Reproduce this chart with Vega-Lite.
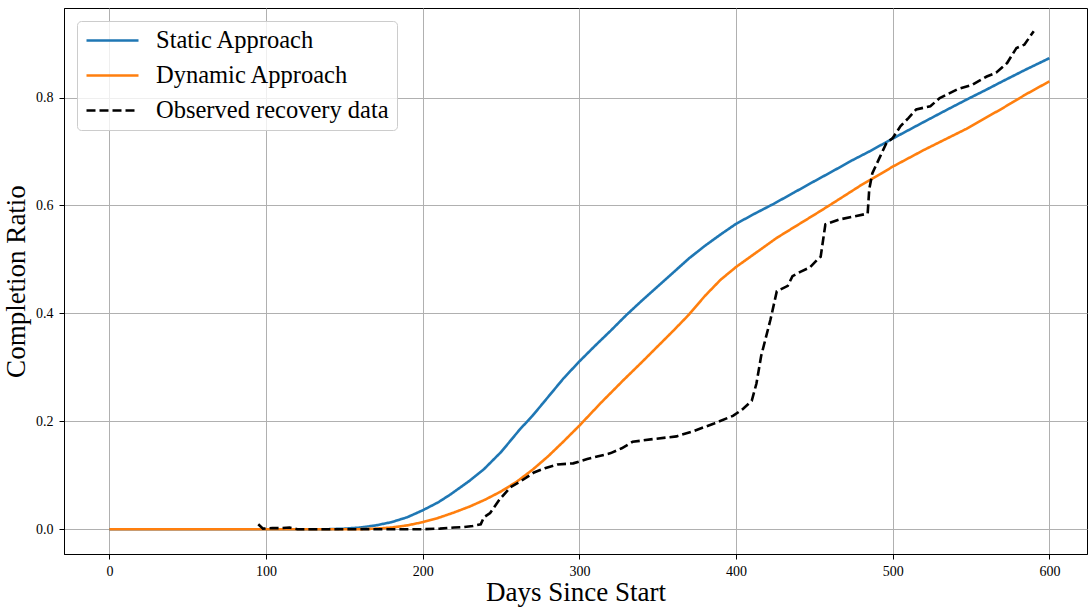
{
  "$schema": "https://vega.github.io/schema/vega-lite/v6.json",
  "width": 1023,
  "height": 546,
  "autosize": {"type": "none"},
  "padding": {"left": 64, "top": 8, "right": 3, "bottom": 55},
  "background": "white",
  "config": {
    "view": {"stroke": "black", "strokeWidth": 1},
    "font": "Liberation Serif",
    "axis": {
      "labelFont": "Liberation Serif",
      "titleFont": "Liberation Serif",
      "labelFontSize": 14,
      "titleFontSize": 27,
      "titleFontWeight": "normal",
      "labelColor": "black",
      "titleColor": "black",
      "domainColor": "black",
      "tickColor": "black",
      "tickSize": 5,
      "gridColor": "#b0b0b0",
      "gridWidth": 1,
      "gridOpacity": 1
    }
  },
  "datasets": {
    "curves": [
      {"series": "Static Approach", "day": 0, "value": 0},
      {"series": "Static Approach", "day": 50, "value": 0},
      {"series": "Static Approach", "day": 100, "value": 0},
      {"series": "Static Approach", "day": 140, "value": 0},
      {"series": "Static Approach", "day": 150, "value": 0.001},
      {"series": "Static Approach", "day": 160, "value": 0.003},
      {"series": "Static Approach", "day": 170, "value": 0.007},
      {"series": "Static Approach", "day": 180, "value": 0.013},
      {"series": "Static Approach", "day": 190, "value": 0.022},
      {"series": "Static Approach", "day": 200, "value": 0.035},
      {"series": "Static Approach", "day": 210, "value": 0.05},
      {"series": "Static Approach", "day": 218, "value": 0.065},
      {"series": "Static Approach", "day": 230, "value": 0.09},
      {"series": "Static Approach", "day": 239, "value": 0.111},
      {"series": "Static Approach", "day": 250, "value": 0.143},
      {"series": "Static Approach", "day": 262, "value": 0.185},
      {"series": "Static Approach", "day": 270, "value": 0.21},
      {"series": "Static Approach", "day": 280, "value": 0.245},
      {"series": "Static Approach", "day": 290, "value": 0.28},
      {"series": "Static Approach", "day": 300, "value": 0.311},
      {"series": "Static Approach", "day": 310, "value": 0.34},
      {"series": "Static Approach", "day": 320, "value": 0.368},
      {"series": "Static Approach", "day": 330, "value": 0.397},
      {"series": "Static Approach", "day": 340, "value": 0.424},
      {"series": "Static Approach", "day": 350, "value": 0.45},
      {"series": "Static Approach", "day": 360, "value": 0.476},
      {"series": "Static Approach", "day": 370, "value": 0.502},
      {"series": "Static Approach", "day": 380, "value": 0.525},
      {"series": "Static Approach", "day": 390, "value": 0.546},
      {"series": "Static Approach", "day": 400, "value": 0.566},
      {"series": "Static Approach", "day": 412, "value": 0.585},
      {"series": "Static Approach", "day": 424, "value": 0.603},
      {"series": "Static Approach", "day": 437, "value": 0.624},
      {"series": "Static Approach", "day": 450, "value": 0.645},
      {"series": "Static Approach", "day": 462, "value": 0.664},
      {"series": "Static Approach", "day": 473, "value": 0.682},
      {"series": "Static Approach", "day": 485, "value": 0.7},
      {"series": "Static Approach", "day": 500, "value": 0.724},
      {"series": "Static Approach", "day": 520, "value": 0.755},
      {"series": "Static Approach", "day": 535, "value": 0.778},
      {"series": "Static Approach", "day": 547, "value": 0.796},
      {"series": "Static Approach", "day": 560, "value": 0.815},
      {"series": "Static Approach", "day": 570, "value": 0.83},
      {"series": "Static Approach", "day": 585, "value": 0.852},
      {"series": "Static Approach", "day": 600, "value": 0.873},
      {"series": "Dynamic Approach", "day": 0, "value": 0},
      {"series": "Dynamic Approach", "day": 100, "value": 0},
      {"series": "Dynamic Approach", "day": 160, "value": 0},
      {"series": "Dynamic Approach", "day": 170, "value": 0.001},
      {"series": "Dynamic Approach", "day": 180, "value": 0.003},
      {"series": "Dynamic Approach", "day": 190, "value": 0.007},
      {"series": "Dynamic Approach", "day": 200, "value": 0.013},
      {"series": "Dynamic Approach", "day": 210, "value": 0.021},
      {"series": "Dynamic Approach", "day": 220, "value": 0.031},
      {"series": "Dynamic Approach", "day": 230, "value": 0.042},
      {"series": "Dynamic Approach", "day": 240, "value": 0.055},
      {"series": "Dynamic Approach", "day": 250, "value": 0.07},
      {"series": "Dynamic Approach", "day": 260, "value": 0.088},
      {"series": "Dynamic Approach", "day": 270, "value": 0.11},
      {"series": "Dynamic Approach", "day": 280, "value": 0.135},
      {"series": "Dynamic Approach", "day": 290, "value": 0.163},
      {"series": "Dynamic Approach", "day": 300, "value": 0.192},
      {"series": "Dynamic Approach", "day": 314, "value": 0.235},
      {"series": "Dynamic Approach", "day": 328, "value": 0.276},
      {"series": "Dynamic Approach", "day": 340, "value": 0.31},
      {"series": "Dynamic Approach", "day": 350, "value": 0.339},
      {"series": "Dynamic Approach", "day": 360, "value": 0.368},
      {"series": "Dynamic Approach", "day": 370, "value": 0.398},
      {"series": "Dynamic Approach", "day": 380, "value": 0.432},
      {"series": "Dynamic Approach", "day": 390, "value": 0.462},
      {"series": "Dynamic Approach", "day": 400, "value": 0.486},
      {"series": "Dynamic Approach", "day": 413, "value": 0.513},
      {"series": "Dynamic Approach", "day": 426, "value": 0.54},
      {"series": "Dynamic Approach", "day": 440, "value": 0.565},
      {"series": "Dynamic Approach", "day": 454, "value": 0.59},
      {"series": "Dynamic Approach", "day": 466, "value": 0.612},
      {"series": "Dynamic Approach", "day": 480, "value": 0.638},
      {"series": "Dynamic Approach", "day": 492, "value": 0.658},
      {"series": "Dynamic Approach", "day": 500, "value": 0.672},
      {"series": "Dynamic Approach", "day": 520, "value": 0.703},
      {"series": "Dynamic Approach", "day": 547, "value": 0.742},
      {"series": "Dynamic Approach", "day": 570, "value": 0.78},
      {"series": "Dynamic Approach", "day": 585, "value": 0.806},
      {"series": "Dynamic Approach", "day": 600, "value": 0.83},
      {"series": "Observed recovery data", "day": 95, "value": 0.009},
      {"series": "Observed recovery data", "day": 98, "value": 0.001},
      {"series": "Observed recovery data", "day": 104, "value": 0.002},
      {"series": "Observed recovery data", "day": 110, "value": 0.002},
      {"series": "Observed recovery data", "day": 115, "value": 0.003},
      {"series": "Observed recovery data", "day": 120, "value": 0},
      {"series": "Observed recovery data", "day": 150, "value": 0},
      {"series": "Observed recovery data", "day": 180, "value": 0},
      {"series": "Observed recovery data", "day": 200, "value": 0},
      {"series": "Observed recovery data", "day": 211, "value": 0.001},
      {"series": "Observed recovery data", "day": 220, "value": 0.003},
      {"series": "Observed recovery data", "day": 226, "value": 0.004},
      {"series": "Observed recovery data", "day": 232, "value": 0.006},
      {"series": "Observed recovery data", "day": 237, "value": 0.009},
      {"series": "Observed recovery data", "day": 239, "value": 0.022},
      {"series": "Observed recovery data", "day": 243, "value": 0.03},
      {"series": "Observed recovery data", "day": 249, "value": 0.055},
      {"series": "Observed recovery data", "day": 256, "value": 0.078},
      {"series": "Observed recovery data", "day": 262, "value": 0.088},
      {"series": "Observed recovery data", "day": 271, "value": 0.105},
      {"series": "Observed recovery data", "day": 278, "value": 0.113},
      {"series": "Observed recovery data", "day": 286, "value": 0.12},
      {"series": "Observed recovery data", "day": 296, "value": 0.122},
      {"series": "Observed recovery data", "day": 305, "value": 0.13},
      {"series": "Observed recovery data", "day": 312, "value": 0.135},
      {"series": "Observed recovery data", "day": 320, "value": 0.141},
      {"series": "Observed recovery data", "day": 327, "value": 0.15},
      {"series": "Observed recovery data", "day": 334, "value": 0.162},
      {"series": "Observed recovery data", "day": 347, "value": 0.167},
      {"series": "Observed recovery data", "day": 362, "value": 0.172},
      {"series": "Observed recovery data", "day": 373, "value": 0.182},
      {"series": "Observed recovery data", "day": 386, "value": 0.196},
      {"series": "Observed recovery data", "day": 398, "value": 0.21},
      {"series": "Observed recovery data", "day": 404, "value": 0.222},
      {"series": "Observed recovery data", "day": 410, "value": 0.238},
      {"series": "Observed recovery data", "day": 413, "value": 0.27},
      {"series": "Observed recovery data", "day": 416, "value": 0.321},
      {"series": "Observed recovery data", "day": 422, "value": 0.389},
      {"series": "Observed recovery data", "day": 426, "value": 0.441},
      {"series": "Observed recovery data", "day": 433, "value": 0.451},
      {"series": "Observed recovery data", "day": 436, "value": 0.469},
      {"series": "Observed recovery data", "day": 441, "value": 0.477},
      {"series": "Observed recovery data", "day": 447, "value": 0.485},
      {"series": "Observed recovery data", "day": 452, "value": 0.5},
      {"series": "Observed recovery data", "day": 454, "value": 0.505},
      {"series": "Observed recovery data", "day": 457, "value": 0.565},
      {"series": "Observed recovery data", "day": 466, "value": 0.574},
      {"series": "Observed recovery data", "day": 476, "value": 0.58},
      {"series": "Observed recovery data", "day": 484, "value": 0.585},
      {"series": "Observed recovery data", "day": 485, "value": 0.63},
      {"series": "Observed recovery data", "day": 487, "value": 0.66},
      {"series": "Observed recovery data", "day": 492, "value": 0.691},
      {"series": "Observed recovery data", "day": 496, "value": 0.716},
      {"series": "Observed recovery data", "day": 500, "value": 0.725},
      {"series": "Observed recovery data", "day": 505, "value": 0.747},
      {"series": "Observed recovery data", "day": 510, "value": 0.762},
      {"series": "Observed recovery data", "day": 515, "value": 0.778},
      {"series": "Observed recovery data", "day": 524, "value": 0.784},
      {"series": "Observed recovery data", "day": 530, "value": 0.799},
      {"series": "Observed recovery data", "day": 541, "value": 0.815},
      {"series": "Observed recovery data", "day": 551, "value": 0.824},
      {"series": "Observed recovery data", "day": 560, "value": 0.839},
      {"series": "Observed recovery data", "day": 566, "value": 0.846},
      {"series": "Observed recovery data", "day": 573, "value": 0.864},
      {"series": "Observed recovery data", "day": 579, "value": 0.892},
      {"series": "Observed recovery data", "day": 584, "value": 0.898},
      {"series": "Observed recovery data", "day": 590, "value": 0.923}
    ]
  },
  "data": {"name": "curves"},
  "mark": {"type": "line", "strokeWidth": 2.6, "clip": true},
  "encoding": {
    "x": {
      "field": "day",
      "type": "quantitative",
      "scale": {"domain": [-29, 624], "nice": false, "zero": false},
      "axis": {"values": [0, 100, 200, 300, 400, 500, 600], "title": "Days Since Start", "titlePadding": 1, "labelPadding": 5}
    },
    "y": {
      "field": "value",
      "type": "quantitative",
      "scale": {"domain": [-0.046, 0.966], "nice": false, "zero": false},
      "axis": {"values": [0, 0.2, 0.4, 0.6, 0.8], "format": ".1f", "title": "Completion Ratio", "titlePadding": 5, "labelPadding": 6}
    },
    "color": {
      "field": "series",
      "type": "nominal",
      "scale": {"domain": ["Static Approach", "Dynamic Approach", "Observed recovery data"], "range": ["#1f77b4", "#ff7f0e", "#000000"]},
      "legend": {
        "title": null,
        "orient": "none",
        "legendX": 13,
        "legendY": 13,
        "fillColor": "rgba(255,255,255,0.8)",
        "strokeColor": "#cccccc",
        "cornerRadius": 4,
        "padding": 8,
        "symbolType": "stroke",
        "symbolSize": 2704,
        "symbolStrokeWidth": 2.6,
        "labelFont": "Liberation Serif",
        "labelFontSize": 24.5,
        "labelColor": "black",
        "labelOffset": 16,
        "labelLimit": 400,
        "clipHeight": 23,
        "rowPadding": 10
      }
    },
    "strokeDash": {
      "field": "series",
      "type": "nominal",
      "scale": {"domain": ["Static Approach", "Dynamic Approach", "Observed recovery data"], "range": [[1, 0], [1, 0], [9, 4]]},
      "legend": null
    }
  }
}
